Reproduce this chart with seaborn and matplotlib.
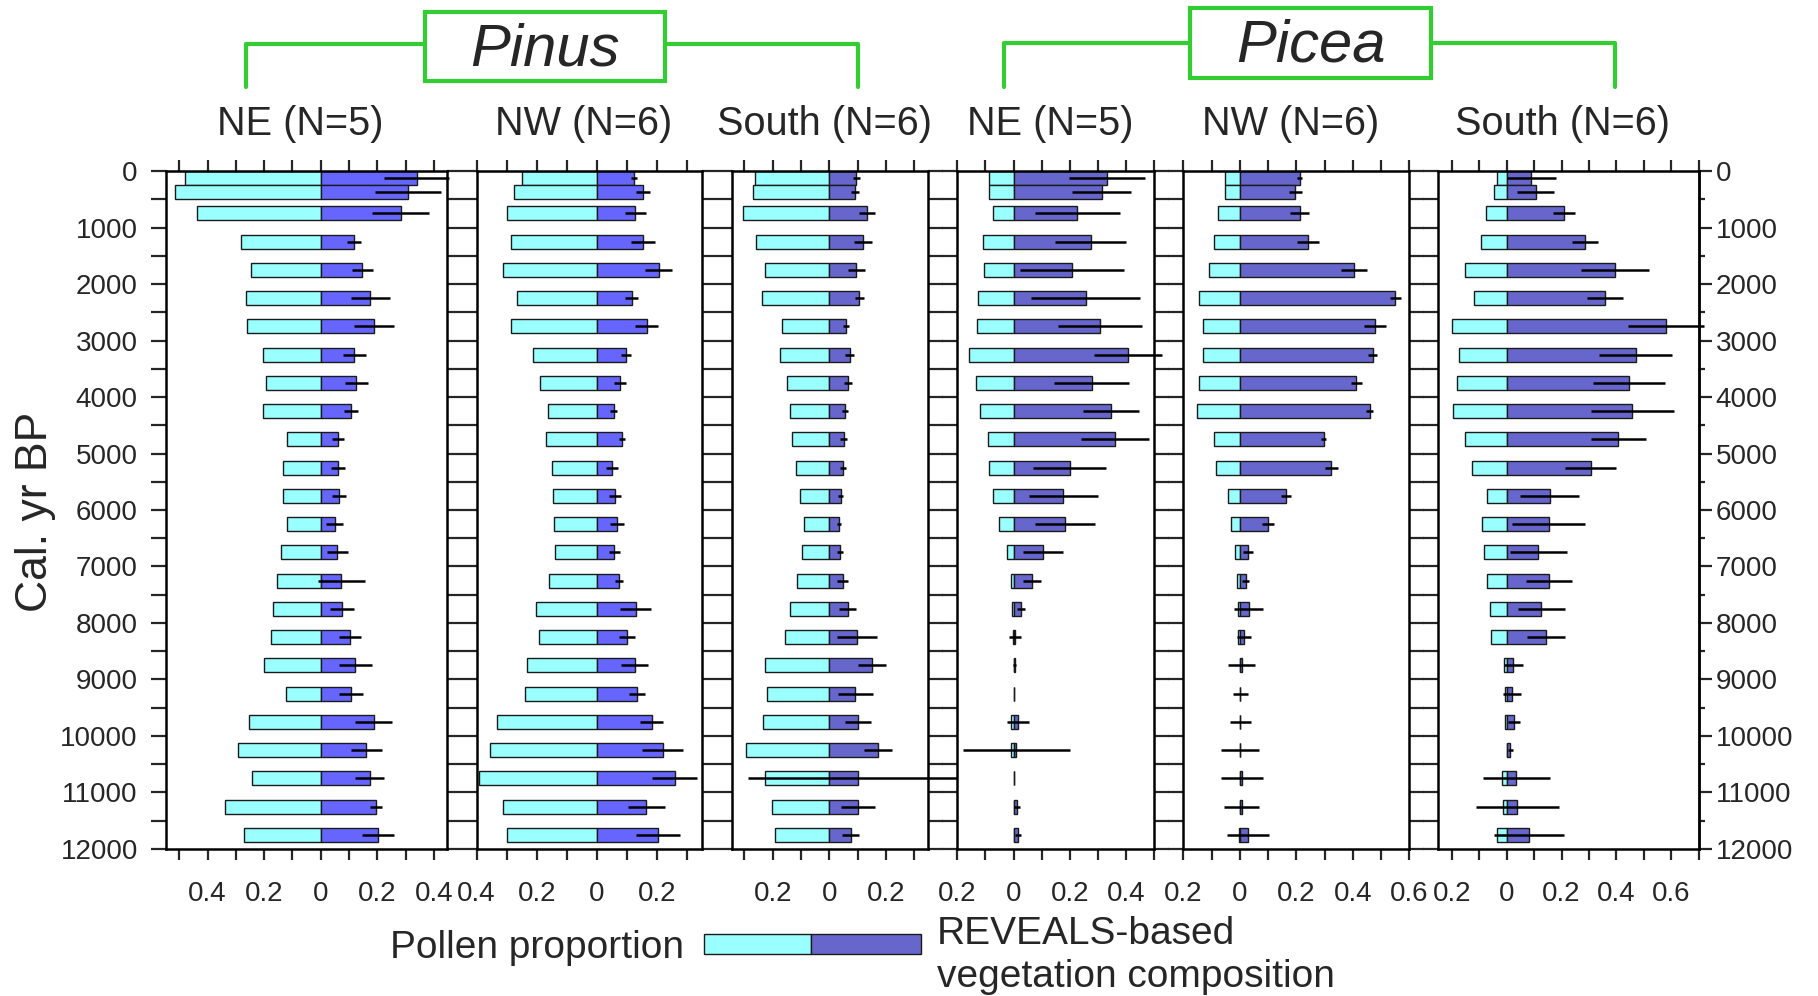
"""
Pinus / Picea pollen vs REVEALS composition, back-to-back bars per region
"""

import numpy as np
import pandas as pd
import matplotlib
matplotlib.use("Agg")
import matplotlib.pyplot as plt
from matplotlib.patches import Rectangle
from matplotlib.lines import Line2D
import seaborn as sns

sns.set_style("ticks")
plt.rcParams["font.family"] = ["Liberation Sans", "DejaVu Sans"]

# ---------------- DATA ----------------
ages = [125, 375, 750, 1250, 1750, 2250, 2750, 3250, 3750, 4250, 4750, 5250,
        5750, 6250, 6750, 7250, 7750, 8250, 8750, 9250, 9750, 10250, 10750,
        11250, 11750]

titles = ["NE (N=5)", "NW (N=6)", "South (N=6)",
          "NE (N=5)", "NW (N=6)", "South (N=6)"]

pinus_ne_pollen = [0.481, 0.514, 0.438, 0.281, 0.247, 0.265, 0.262, 0.205, 0.194, 0.205, 0.120, 0.134,
                   0.134, 0.120, 0.142, 0.156, 0.167, 0.175, 0.199, 0.122, 0.252, 0.291, 0.242, 0.340, 0.272]
pinus_ne_reveals = [0.339, 0.308, 0.282, 0.118, 0.147, 0.175, 0.187, 0.119, 0.126, 0.106, 0.060, 0.062,
                    0.065, 0.049, 0.059, 0.073, 0.075, 0.104, 0.122, 0.107, 0.187, 0.161, 0.173, 0.194, 0.201]
pinus_ne_se = [0.114, 0.118, 0.102, 0.025, 0.038, 0.069, 0.071, 0.041, 0.042, 0.025, 0.022, 0.025,
               0.024, 0.029, 0.038, 0.084, 0.044, 0.039, 0.059, 0.042, 0.066, 0.054, 0.051, 0.021, 0.057]

pinus_nw_pollen = [0.248, 0.275, 0.298, 0.287, 0.311, 0.266, 0.287, 0.214, 0.191, 0.163, 0.170, 0.149,
                   0.146, 0.142, 0.138, 0.159, 0.203, 0.194, 0.232, 0.240, 0.331, 0.355, 0.391, 0.311, 0.298]
pinus_nw_reveals = [0.123, 0.154, 0.128, 0.153, 0.206, 0.115, 0.165, 0.096, 0.076, 0.055, 0.082, 0.050,
                    0.060, 0.066, 0.058, 0.074, 0.129, 0.100, 0.125, 0.133, 0.182, 0.218, 0.258, 0.164, 0.203]
pinus_nw_se = [0.010, 0.023, 0.036, 0.040, 0.045, 0.021, 0.039, 0.017, 0.020, 0.012, 0.010, 0.021,
               0.020, 0.023, 0.018, 0.014, 0.051, 0.026, 0.046, 0.026, 0.038, 0.068, 0.074, 0.061, 0.072]

pinus_s_pollen = [0.261, 0.269, 0.304, 0.259, 0.226, 0.239, 0.169, 0.173, 0.151, 0.140, 0.132, 0.119,
                  0.105, 0.091, 0.096, 0.115, 0.139, 0.156, 0.228, 0.220, 0.234, 0.293, 0.226, 0.201, 0.191]
pinus_s_reveals = [0.096, 0.091, 0.132, 0.119, 0.096, 0.106, 0.059, 0.072, 0.066, 0.056, 0.051, 0.049,
                   0.040, 0.035, 0.038, 0.047, 0.065, 0.099, 0.152, 0.092, 0.102, 0.173, 0.102, 0.102, 0.075]
pinus_s_se = [0.012, 0.015, 0.028, 0.031, 0.029, 0.016, 0.012, 0.016, 0.014, 0.010, 0.012, 0.010,
              0.009, 0.008, 0.011, 0.019, 0.031, 0.071, 0.049, 0.061, 0.046, 0.050, 0.390, 0.059, 0.029]

picea_ne_pollen = [0.086, 0.088, 0.072, 0.109, 0.107, 0.126, 0.129, 0.158, 0.134, 0.121, 0.091, 0.086,
                   0.075, 0.053, 0.025, 0.009, 0.005, 0.002, 0.0, 0.0, 0.010, 0.008, 0.0, 0.0, 0.0]
picea_ne_reveals = [0.332, 0.314, 0.226, 0.274, 0.207, 0.257, 0.308, 0.406, 0.277, 0.346, 0.360, 0.199,
                    0.177, 0.182, 0.105, 0.066, 0.026, 0.006, 0.004, 0.0, 0.017, 0.009, 0.0, 0.013, 0.017]
picea_ne_se = [0.136, 0.105, 0.151, 0.127, 0.186, 0.194, 0.150, 0.120, 0.133, 0.099, 0.121, 0.130,
               0.124, 0.107, 0.072, 0.031, 0.014, 0.021, 0.005, 0.0, 0.039, 0.190, 0.0, 0.010, 0.011]

picea_nw_pollen = [0.054, 0.051, 0.076, 0.092, 0.110, 0.146, 0.131, 0.132, 0.145, 0.153, 0.093, 0.086,
                   0.042, 0.030, 0.017, 0.011, 0.008, 0.006, 0.0, 0.0, 0.0, 0.0, 0.0, 0.0, 0.004]
picea_nw_reveals = [0.212, 0.197, 0.212, 0.242, 0.404, 0.551, 0.478, 0.470, 0.413, 0.460, 0.297, 0.324,
                    0.163, 0.100, 0.029, 0.021, 0.032, 0.016, 0.006, 0.002, 0.002, 0.001, 0.008, 0.006, 0.029]
picea_nw_se = [0.009, 0.023, 0.034, 0.039, 0.045, 0.021, 0.038, 0.017, 0.019, 0.012, 0.009, 0.022,
               0.019, 0.022, 0.018, 0.013, 0.051, 0.025, 0.047, 0.026, 0.038, 0.068, 0.074, 0.061, 0.074]

picea_s_pollen = [0.035, 0.046, 0.074, 0.095, 0.151, 0.118, 0.199, 0.176, 0.180, 0.196, 0.152, 0.126,
                  0.073, 0.091, 0.084, 0.072, 0.062, 0.058, 0.009, 0.007, 0.005, 0.0, 0.018, 0.013, 0.034]
picea_s_reveals = [0.089, 0.106, 0.208, 0.286, 0.395, 0.357, 0.580, 0.470, 0.445, 0.458, 0.407, 0.306,
                   0.156, 0.153, 0.115, 0.153, 0.126, 0.143, 0.024, 0.018, 0.026, 0.012, 0.034, 0.039, 0.080]
picea_s_se = [0.089, 0.068, 0.041, 0.047, 0.125, 0.066, 0.139, 0.133, 0.132, 0.150, 0.099, 0.092,
              0.109, 0.133, 0.103, 0.084, 0.086, 0.070, 0.035, 0.033, 0.022, 0.009, 0.122, 0.150, 0.127]

panels = [
    (pinus_ne_pollen, pinus_ne_reveals, pinus_ne_se),
    (pinus_nw_pollen, pinus_nw_reveals, pinus_nw_se),
    (pinus_s_pollen, pinus_s_reveals, pinus_s_se),
    (picea_ne_pollen, picea_ne_reveals, picea_ne_se),
    (picea_nw_pollen, picea_nw_reveals, picea_nw_se),
    (picea_s_pollen, picea_s_reveals, picea_s_se),
]

# ---------------- STYLE / LAYOUT ----------------
POLLEN_C = "#99FFFF"
EDGE = "#1a1a1a"
GREEN = "#33CC33"
BOTTOM, HEIGHT = 0.1476, 0.6807

# left, width, xlim, reveals colour
layout = [
    (0.0911, 0.1548, (-0.548, 0.446), "#6666FF"),
    (0.2622, 0.1239, (-0.400, 0.349), "#6666FF"),
    (0.4025, 0.1081, (-0.345, 0.350), "#6666CC"),
    (0.5266, 0.1083, (-0.200, 0.500), "#6666CC"),
    (0.6509, 0.1243, (-0.200, 0.600), "#6666CC"),
    (0.7911, 0.1433, (-0.250, 0.700), "#6666CC"),
]

fig = plt.figure(figsize=(18.18, 9.96), dpi=100)

yt = list(range(0, 12001, 1000))
yt_minor = list(range(500, 12000, 1000))

for i, (pol, rev, se) in enumerate(panels):
    left, width, xlim, rcol = layout[i]
    ax = fig.add_axes([left, BOTTOM, width, HEIGHT])

    df = pd.DataFrame({"age": ages, "pollen": -np.array(pol),
                       "reveals": rev, "se": se})

    sns.barplot(data=df, x="pollen", y="age", orient="y", native_scale=True,
                width=1, color=POLLEN_C, saturation=1, edgecolor=EDGE,
                linewidth=1, errorbar=None, ax=ax)
    sns.barplot(data=df, x="reveals", y="age", orient="y", native_scale=True,
                width=1, color=rcol, saturation=1, edgecolor=EDGE,
                linewidth=1, errorbar=None, ax=ax)
    eb = ax.errorbar(df["reveals"], df["age"], xerr=df["se"], fmt="none",
                     ecolor="black", elinewidth=1.8, capsize=0, zorder=4)
    for lc in eb.lines[2]:
        lc.set_clip_on(False)

    # x axis: ticks every 0.1, labels (absolute) every 0.2
    ax.set_xlim(xlim)
    xt = [round(v, 1) for v in np.arange(-0.7, 0.75, 0.1)]
    xt = [v for v in xt if xlim[0] - 1e-6 <= v <= xlim[1] + 1e-6]
    xl = [f"{abs(v):g}" if round(v * 10) % 2 == 0 else "" for v in xt]
    ax.set_xticks(xt, labels=xl)
    ax.tick_params(axis="x", which="both", direction="out", length=8,
                   width=1.6, top=True, bottom=True, labelsize=20, pad=15)

    # y axis
    ax.set_ylim(12000, 0)
    ax.set_yticks(yt, labels=[str(v) for v in yt])
    ax.set_yticks(yt_minor, minor=True)
    ax.tick_params(axis="y", which="both", direction="out", length=11,
                   width=1.6, left=True, right=(i < 5), labelleft=(i == 0),
                   labelsize=20, pad=9)
    ax.set_xlabel("")
    ax.set_ylabel("")
    for s in ax.spines.values():
        s.set_linewidth(1.8)
        s.set_color("black")

    ax.text(0.5 - 6 / (width * 1818), 1.070, titles[i], transform=ax.transAxes,
            ha="center", va="center", fontsize=28.5)

    if i == 5:
        sec = ax.secondary_yaxis("right")
        sec.set_ticks(yt, labels=[str(v) for v in yt])
        sec.set_ticks(yt_minor, minor=True)
        sec.tick_params(which="major", direction="out", length=9, width=1.6,
                        labelsize=20, pad=3)
        sec.tick_params(which="minor", direction="out", length=4.5, width=1.6)
        sec.spines["right"].set_linewidth(1.8)

fig.text(0.0193, 0.486, "Cal. yr BP", rotation=90, ha="center", va="center",
         fontsize=32)

# ---------------- GENUS HEADERS ----------------
def header(box_x, box_y, box_w, box_h, br_left, br_right, br_top, label):
    fig.add_artist(Rectangle((box_x, box_y), box_w, box_h, transform=fig.transFigure,
                             fill=False, edgecolor=GREEN, linewidth=3))
    fig.add_artist(Line2D([br_left, br_left, box_x], [0.9127, br_top, br_top],
                          transform=fig.transFigure, color=GREEN, lw=3))
    fig.add_artist(Line2D([box_x + box_w, br_right, br_right], [br_top, br_top, 0.9127],
                          transform=fig.transFigure, color=GREEN, lw=3))
    fig.text(box_x + box_w / 2, box_y + box_h / 2 - 0.0035, label, ha="center",
             va="center", fontsize=43, style="italic")

header(0.2338, 0.9187, 0.1320, 0.0693, 0.1353, 0.4719, 0.9558, "Pinus")
header(0.6546, 0.9217, 0.1325, 0.0703, 0.5523, 0.8883, 0.9568, "Picea")

# ---------------- LEGEND ----------------
fig.add_artist(Rectangle((0.3872, 0.0422), 0.0589, 0.0201, transform=fig.transFigure,
                         facecolor=POLLEN_C, edgecolor=EDGE, linewidth=1))
fig.add_artist(Rectangle((0.4461, 0.0422), 0.0605, 0.0201, transform=fig.transFigure,
                         facecolor="#6666CC", edgecolor=EDGE, linewidth=1))
fig.text(0.3762, 0.0477, "Pollen proportion", ha="right", va="center", fontsize=28)
fig.text(0.5154, 0.0618, "REVEALS-based", ha="left", va="center", fontsize=28)
fig.text(0.5154, 0.0186, "vegetation composition", ha="left", va="center", fontsize=28)

fig.savefig("out.png", dpi=100)
